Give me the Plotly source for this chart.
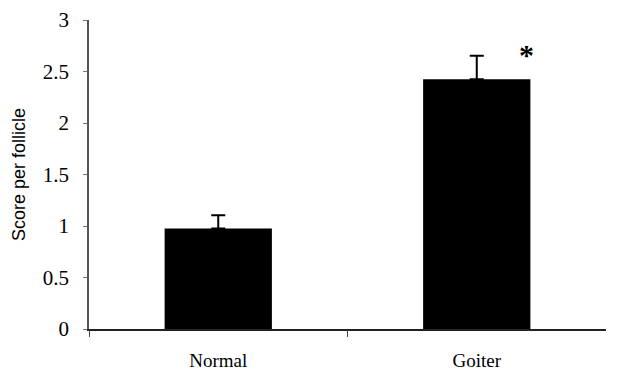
import plotly.graph_objects as go

categories = ["Normal", "Goiter"]
scores = [0.975, 2.425]
errors_up = [0.13, 0.228]
errors_down = [0, 0]
y_ticks = [0, 0.5, 1, 1.5, 2, 2.5, 3]
y_tick_labels = ["0", "0.5", "1", "1.5", "2", "2.5", "3"]
significance = {"Goiter": "*"}

fig = go.Figure()
fig.add_trace(go.Bar(
    x=categories, y=scores,
    marker=dict(color="black", line=dict(width=0)),
    width=0.415,
    error_y=dict(type="data", symmetric=False, array=errors_up, arrayminus=errors_down,
                 color="black", thickness=2, width=7),
    showlegend=False,
))
# helper trace so that the boundary-tick axis is drawn
fig.add_trace(go.Scatter(x=[None], y=[None], xaxis="x2", yaxis="y",
                         showlegend=False, hoverinfo="skip"))

for cat, txt in significance.items():
    idx = categories.index(cat)
    fig.add_annotation(x=cat, y=scores[idx] + errors_up[idx], text="<b>" + txt + "</b>",
                       showarrow=False, xshift=50, yshift=1,
                       font=dict(family="Liberation Serif", size=30, color="black"))

fig.update_layout(
    width=614, height=367,
    margin=dict(l=81, r=16, t=12, b=46),
    paper_bgcolor="white", plot_bgcolor="white",
    xaxis=dict(
        type="category", range=[-0.5, 1.5], automargin=False,
        showline=True, linecolor="#222", linewidth=1.5,
        ticks="", ticklabelstandoff=13,
        tickfont=dict(family="Liberation Serif", size=19, color="black"),
        showgrid=False, zeroline=False,
    ),
    xaxis2=dict(
        overlaying="x", range=[-0.5, 1.5], automargin=False,
        tickmode="array", tickvals=[-0.5, 0.5], ticks="outside", ticklen=7,
        tickcolor="#444", tickwidth=1.2, showticklabels=False,
        showline=False, showgrid=False, zeroline=False, side="bottom",
    ),
    yaxis=dict(
        range=[0, 3], tickmode="array", tickvals=y_ticks, ticktext=y_tick_labels,
        automargin=False,
        showline=True, linecolor="#555", linewidth=1.5,
        ticks="outside", ticklen=4, tickcolor="#777", tickwidth=1.2,
        ticklabelstandoff=10,
        tickfont=dict(family="Liberation Serif", size=21, color="black"),
        showgrid=False, zeroline=False,
        title=dict(text="Score per follicle", standoff=12,
                   font=dict(family="Liberation Sans", size=18, color="black")),
    ),
)

fig.write_html("out.html")
